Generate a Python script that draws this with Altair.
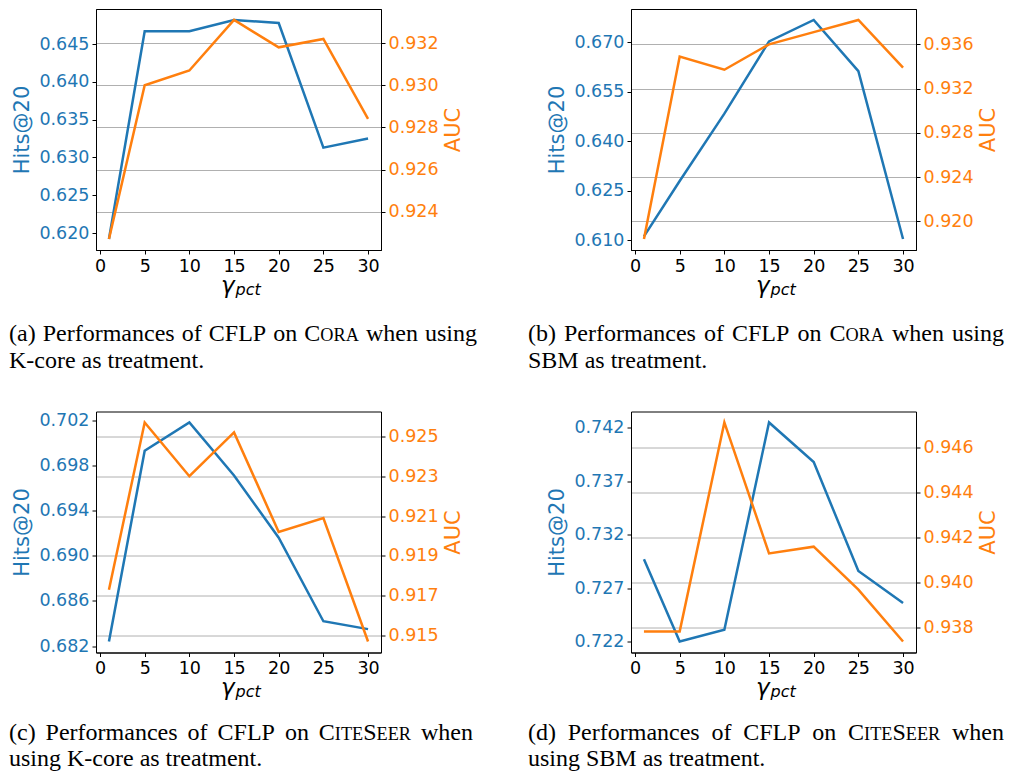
import altair as alt
import pandas as pd

# ---------------- data ----------------
x_vals = [1, 5, 10, 15, 20, 25, 30]
x_ticks = [0, 5, 10, 15, 20, 25, 30]

a_hits = [0.6192, 0.6467, 0.6467, 0.6482, 0.6478, 0.6313, 0.6325]
a_auc = [0.9227, 0.9300, 0.9307, 0.9331, 0.9318, 0.9322, 0.9284]
b_hits = [0.6112, 0.6280, 0.6484, 0.6703, 0.6768, 0.6613, 0.6104]
b_auc = [0.9184, 0.9349, 0.9337, 0.9360, 0.9371, 0.9382, 0.9339]
c_hits = [0.6824, 0.6993, 0.7018, 0.6971, 0.6916, 0.6842, 0.6835]
c_auc = [0.9173, 0.9257, 0.9230, 0.9252, 0.9202, 0.9209, 0.9147]
d_hits = [0.7297, 0.7220, 0.7231, 0.7425, 0.7388, 0.7286, 0.7256]
d_auc = [0.93785, 0.93785, 0.9471, 0.9413, 0.9416, 0.9397, 0.9374]

a_hits_ticks = [0.620, 0.625, 0.630, 0.635, 0.640, 0.645]
a_auc_ticks = [0.924, 0.926, 0.928, 0.930, 0.932]
b_hits_ticks = [0.610, 0.625, 0.640, 0.655, 0.670]
b_auc_ticks = [0.920, 0.924, 0.928, 0.932, 0.936]
c_hits_ticks = [0.682, 0.686, 0.690, 0.694, 0.698, 0.702]
c_auc_ticks = [0.915, 0.917, 0.919, 0.921, 0.923, 0.925]
d_hits_ticks = [0.722, 0.727, 0.732, 0.737, 0.742]
d_auc_ticks = [0.938, 0.940, 0.942, 0.944, 0.946]

left_title = "Hits@20"
right_title = "AUC"
x_title = ["γ", "pct"]

# caption words; a list of (text, small_caps) pairs is one word
cap_a1 = ["(a)", "Performances", "of", "CFLP", "on", [("C", False), ("ORA", True)], "when", "using"]
cap_a2 = "K-core as treatment."
cap_b1 = ["(b)", "Performances", "of", "CFLP", "on", [("C", False), ("ORA", True)], "when", "using"]
cap_b2 = "SBM as treatment."
cap_c1 = ["(c)", "Performances", "of", "CFLP", "on",
          [("C", False), ("ITE", True), ("S", False), ("EER", True)], "when"]
cap_c2 = "using K-core as treatment."
cap_d1 = ["(d)", "Performances", "of", "CFLP", "on",
          [("C", False), ("ITE", True), ("S", False), ("EER", True)], "when"]
cap_d2 = "using SBM as treatment."

# ---------------- style / layout ----------------
BLUE = "#1f77b4"
ORANGE = "#ff7f0e"
W, H = 285, 241
TICK_FS = 17.5
TITLE_FS = 21
CAP_FS = 24
SC = 0.76

TNR = {" ": 250, "(": 333, ")": 333, ".": 250, "-": 333,
       "a": 444, "b": 500, "c": 444, "d": 500, "e": 444, "f": 333, "g": 500,
       "h": 500, "i": 278, "k": 500, "m": 778, "n": 500, "o": 500, "p": 500,
       "r": 333, "s": 389, "t": 278, "u": 500, "w": 722,
       "C": 667, "F": 556, "L": 611, "P": 556, "K": 722, "S": 556, "B": 667,
       "M": 889, "O": 722, "R": 667, "A": 722, "I": 333, "T": 611, "E": 611}


def seg_width(text, size):
    return sum(TNR.get(ch, 500) for ch in text) / 1000.0 * size


def caption_df(words, line2, x0, x1, y1, y2):
    segs_list = [w if isinstance(w, list) else [(w, False)] for w in words]
    widths = [sum(seg_width(t, CAP_FS * SC if s else CAP_FS) for t, s in segs)
              for segs in segs_list]
    gap = (x1 - x0 - sum(widths)) / (len(widths) - 1)
    rows = []
    x = x0
    for segs, wd in zip(segs_list, widths):
        xx = x
        for t, s in segs:
            size = CAP_FS * SC if s else CAP_FS
            rows.append({"t": t, "px": xx, "py": y1, "fs": size})
            xx += seg_width(t, size)
        x += wd + gap
    rows.append({"t": line2, "px": x0, "py": y2, "fs": CAP_FS})
    return pd.DataFrame(rows)


def dom(v):
    lo, hi = min(v), max(v)
    m = (hi - lo) * 0.05
    return [lo - m, hi + m]


def panel(hits, auc, hits_ticks, auc_ticks, cap):
    df = pd.DataFrame({"x": x_vals, "hits": hits, "auc": auc})
    xs = alt.Scale(domain=[-0.45, 31.45], nice=False, zero=False)
    common = dict(labelFont="DejaVu Sans", titleFont="DejaVu Sans",
                  labelFontSize=TICK_FS, titleFontSize=TITLE_FS,
                  titleFontWeight="normal", tickColor="black",
                  domainColor="black", tickSize=4, tickWidth=1,
                  domainWidth=1, labelPadding=3)
    blue = alt.Chart(df).mark_line(color=BLUE, strokeWidth=2.5).encode(
        x=alt.X("x:Q", scale=xs,
                axis=alt.Axis(values=x_ticks, title=None, grid=False,
                              labelColor="black", labelFlush=False, **common)),
        y=alt.Y("hits:Q", scale=alt.Scale(domain=dom(hits), nice=False, zero=False),
                axis=alt.Axis(orient="left", values=hits_ticks, format=".3f",
                              title=left_title, grid=False, labelColor=BLUE,
                              titleColor=BLUE, titlePadding=6, **common)),
    )
    orange = alt.Chart(df).mark_line(color=ORANGE, strokeWidth=2.5).encode(
        x=alt.X("x:Q", scale=xs, axis=None),
        y=alt.Y("auc:Q", scale=alt.Scale(domain=dom(auc), nice=False, zero=False),
                axis=alt.Axis(orient="right", values=auc_ticks, format=".3f",
                              title=right_title, grid=True, gridColor="#b0b0b0",
                              gridWidth=1, labelColor=ORANGE, titleColor=ORANGE,
                              titleAngle=270, titleBaseline="top",
                              titlePadding=4, **common)),
    )
    pxs = alt.Scale(domain=[0, W], range=[0, W])
    pys = alt.Scale(domain=[0, H], range=[0, H])
    cap_layer = alt.Chart(cap).mark_text(
        align="left", baseline="alphabetic", font="Liberation Serif", color="black"
    ).encode(
        x=alt.X("px:Q", scale=pxs, axis=None),
        y=alt.Y("py:Q", scale=pys, axis=None),
        text="t:N",
        size=alt.Size("fs:Q", scale=None, legend=None),
    )
    gdf = pd.DataFrame({"t": x_title, "px": [125, 139.5],
                        "py": [H + 42.5, H + 44.5], "fs": [23, 16]})
    gam = alt.Chart(gdf).mark_text(
        align="left", baseline="alphabetic", font="DejaVu Sans",
        fontStyle="italic", color="black"
    ).encode(
        x=alt.X("px:Q", scale=pxs, axis=None),
        y=alt.Y("py:Q", scale=pys, axis=None),
        text="t:N",
        size=alt.Size("fs:Q", scale=None, legend=None),
    )
    return alt.layer(blue, orange, cap_layer, gam).resolve_scale(
        x="independent", y="independent"
    ).properties(width=W, height=H)


pa = panel(a_hits, a_auc, a_hits_ticks, a_auc_ticks,
           caption_df(cap_a1, cap_a2, -87, 381, 332.4, 359.4))
pb = panel(b_hits, b_auc, b_hits_ticks, b_auc_ticks,
           caption_df(cap_b1, cap_b2, -103, 373, 332.4, 359.4))
pc = panel(c_hits, c_auc, c_hits_ticks, c_auc_ticks,
           caption_df(cap_c1, cap_c2, -87, 377, 328.6, 354.6))
pd_ = panel(d_hits, d_auc, d_hits_ticks, d_auc_ticks,
            caption_df(cap_d1, cap_d2, -103, 373, 328.6, 354.6))

chart = alt.concat(
    pa, pb, pc, pd_, columns=2,
    spacing={"row": 161.5, "column": 250}, bounds="flush"
).properties(
    padding=0
).configure_view(stroke="black", strokeWidth=1)

chart.save("out.html", embed_options={"renderer": "svg", "actions": False})
